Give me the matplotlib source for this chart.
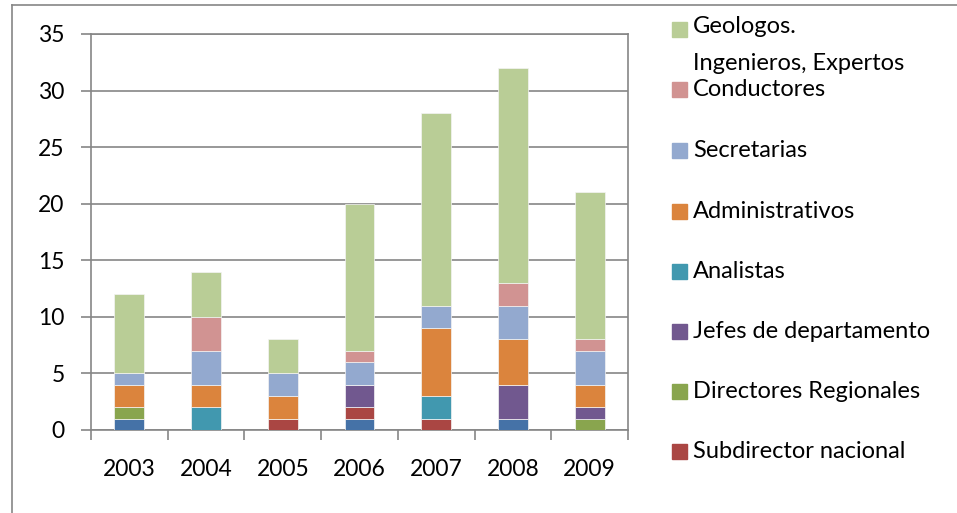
import numpy as np
import matplotlib.pyplot as plt
from matplotlib.patches import Rectangle
from matplotlib.lines import Line2D

plt.rcParams['font.family'] = ['Lato', 'DejaVu Sans']

years = ['2003', '2004', '2005', '2006', '2007', '2008', '2009']

# series from bottom to top of each stack
director = [1, 0, 0, 1, 0, 1, 0]
subdirector = [0, 0, 1, 1, 1, 0, 0]
directores_reg = [1, 0, 0, 0, 0, 0, 1]
jefes = [0, 0, 0, 2, 0, 3, 1]
analistas = [0, 2, 0, 0, 2, 0, 0]
administrativos = [2, 2, 2, 0, 6, 4, 2]
secretarias = [1, 3, 2, 2, 2, 3, 3]
conductores = [0, 3, 0, 1, 0, 2, 1]
geologos = [7, 4, 3, 13, 17, 19, 13]

series = [
    (None, director, '#4572A7'),
    ('Subdirector nacional', subdirector, '#AA4643'),
    ('Directores Regionales', directores_reg, '#89A54E'),
    ('Jefes de departamento', jefes, '#71588F'),
    ('Analistas', analistas, '#4198AF'),
    ('Administrativos', administrativos, '#DB843D'),
    ('Secretarias', secretarias, '#93A9CF'),
    ('Conductores', conductores, '#D19392'),
    ('Geologos.\nIngenieros, Expertos', geologos, '#B9CD96'),
]

fig = plt.figure(figsize=(9.57, 5.13), dpi=100)
ax = fig.add_axes([91 / 957, 1 - 430 / 513, (628 - 91) / 957, (430 - 34) / 513])

x = np.arange(len(years))
bottom = np.zeros(len(years))
for name, vals, col in series:
    vals = np.array(vals, dtype=float)
    ax.bar(x, vals, width=0.39, bottom=bottom, color=col, edgecolor='#f4f4f4', linewidth=0.5, zorder=3)
    bottom += vals

grid_col = '#868686'
ax.set_ylim(0, 35)
ax.set_xlim(-0.5, len(years) - 0.5)
ax.set_yticks(range(0, 36, 5))
ax.yaxis.grid(True, color=grid_col, linewidth=1.2, zorder=0)
ax.set_xticks(x)
ax.set_xticklabels(years)
ax.set_xticks(np.arange(-0.5, len(years)), minor=True)
ax.tick_params(axis='x', which='major', length=0, pad=21, labelsize=16.5)
ax.tick_params(axis='x', which='minor', length=7, width=1.2, color=grid_col)
ax.tick_params(axis='y', length=7, width=1.2, color=grid_col, pad=12, labelsize=16.5)
for s in ax.spines.values():
    s.set_color(grid_col)
    s.set_linewidth(1.2)

# outer chart border
fig.add_artist(Line2D([12 / 957, 12 / 957], [0, 1 - 5 / 513], transform=fig.transFigure, color=grid_col, lw=1.2))
fig.add_artist(Line2D([12 / 957, 1], [1 - 5 / 513, 1 - 5 / 513], transform=fig.transFigure, color=grid_col, lw=1.2))

# legend, drawn by hand to follow the original spacing
legend_items = [s for s in series if s[0] is not None][::-1]
ys = [30, 90, 151, 212, 272, 332, 392, 452]
for (name, vals, col), yp in zip(legend_items, ys):
    fig.add_artist(Rectangle((672 / 957, 1 - (yp + 7) / 513), 15 / 957, 15 / 513,
                             transform=fig.transFigure, color=col))
    if '\n' in name:
        fig.text(693 / 957, 1 - (yp - 14) / 513, name, fontsize=17, va='top', ha='left',
                 linespacing=1.95)
    else:
        fig.text(693 / 957, 1 - yp / 513, name, fontsize=17, va='center', ha='left')

fig.savefig('out.png', dpi=100)
